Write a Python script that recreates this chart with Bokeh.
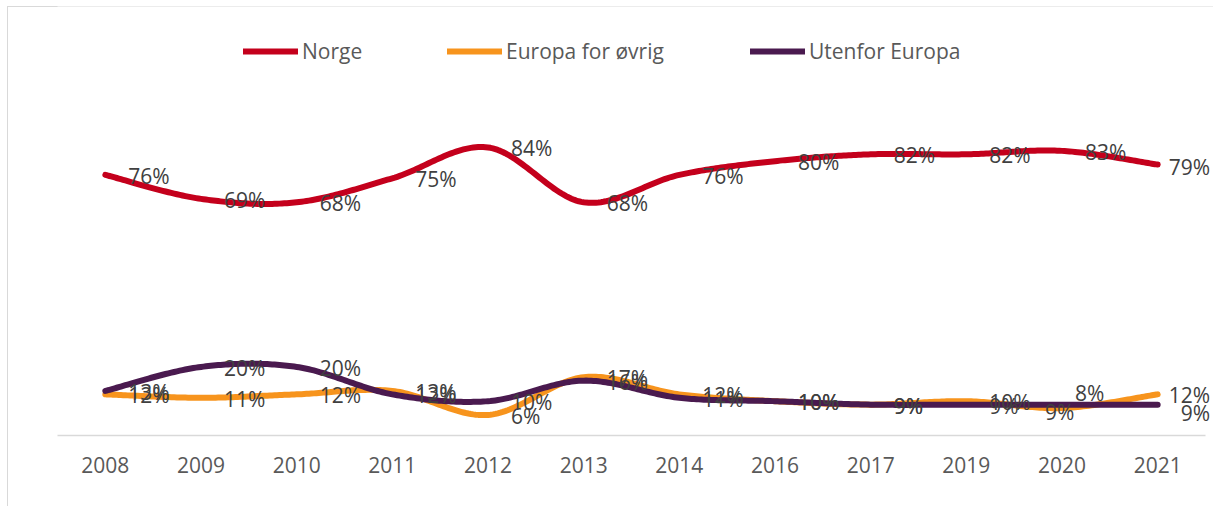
import numpy as np
from bokeh.plotting import figure
from bokeh.models import (ColumnDataSource, Range1d, LabelSet, FixedTicker,
                          Legend, LegendItem)
from bokeh.core.properties import value
from bokeh.embed import file_html
from bokeh.resources import INLINE

# ---------------- data ----------------
years = ["2008", "2009", "2010", "2011", "2012", "2013", "2014",
         "2016", "2017", "2019", "2020", "2021"]
norge = [76, 69, 68, 75, 84, 68, 76, 80, 82, 82, 83, 79]
europa = [12, 11, 12, 13, 6, 17, 12, 10, 9, 10, 8, 12]
utenfor = [13, 20, 20, 12, 10, 16, 11, 10, 9, 9, 9, 9]
series_names = ["Norge", "Europa for øvrig", "Utenfor Europa"]

# ---------------- style ----------------
colors = ["#C4001C", "#F7941D", "#4A1A4F"]
FONT = "Open Sans"
Y_MAX = 125.1
N = len(years)
FRAME_W = 1156          # px
BAND_W = 1148 / N       # px per category (axis spans 12 categories)
X_MAX = FRAME_W / BAND_W

# label offsets in screen px (dx right, dy down); default applied otherwise
DEFAULT_OFF = (23, 1)
label_offsets = [
    {"2021": (11, 2)},
    {"2021": (11, 1), "2020": (13, -15)},
    {"2021": (23, 8), "2020": (-17, 7)},
]

xpos = [i + 0.5 for i in range(N)]


def smooth(vals, n=40):
    pts = np.column_stack([np.asarray(xpos, float), np.asarray(vals, float)])
    out = []
    t = np.linspace(0, 1, n)[:, None]
    for i in range(len(pts) - 1):
        p0 = pts[max(i - 1, 0)]
        p1 = pts[i]
        p2 = pts[i + 1]
        p3 = pts[min(i + 2, len(pts) - 1)]
        c1 = p1 + (p2 - p0) / 6.0
        c2 = p2 - (p3 - p1) / 6.0
        seg = ((1 - t) ** 3) * p1 + 3 * ((1 - t) ** 2) * t * c1 \
            + 3 * (1 - t) * (t ** 2) * c2 + (t ** 3) * p2
        out.append(seg if i == 0 else seg[1:])
    s = np.vstack(out)
    return s[:, 0], s[:, 1]


p = figure(width=1206, height=500,
           x_range=Range1d(0, X_MAX),
           y_range=Range1d(0, Y_MAX),
           output_backend="svg", toolbar_location=None,
           min_border_left=50, min_border_right=0,
           min_border_top=0, min_border_bottom=71)

p.outline_line_color = None
p.background_fill_color = "white"
p.border_fill_alpha = 0
p.xgrid.visible = False
p.ygrid.visible = False
p.yaxis.visible = False
p.styles = {"margin-left": "7px", "margin-top": "6px",
            "box-shadow": "inset 1px 1px 0 0 #d9d9d9"}

ax = p.xaxis[0]
ax.ticker = FixedTicker(ticks=xpos)
ax.major_label_overrides = {x: y for x, y in zip(xpos, years)}
ax.bounds = (0, N)
ax.axis_line_color = "#d9d9d9"
ax.axis_line_width = 1.5
ax.major_tick_line_color = None
ax.minor_tick_line_color = None
ax.major_label_text_font = FONT
ax.major_label_text_font_size = "21px"
ax.major_label_text_color = "#595959"
ax.major_label_standoff = 15

renderers = []
for vals, col in zip([norge, europa, utenfor], colors):
    sx, sy = smooth(vals)
    r = p.line(sx, sy, line_color=col, line_width=6,
               line_cap="round", line_join="round")
    renderers.append(r)

for k, vals in enumerate([norge, europa, utenfor]):
    offs = [label_offsets[k].get(y, DEFAULT_OFF) for y in years]
    src = ColumnDataSource(dict(
        x=xpos, y=vals, text=[f"{v}%" for v in vals],
        dx=[o[0] for o in offs], dy=[-o[1] for o in offs]))
    ls = LabelSet(x="x", y="y", text="text", x_offset="dx", y_offset="dy",
                  source=src, text_font=value(FONT),
                  text_font_size=value("21px"),
                  text_color="#404040", text_align="left",
                  text_baseline="middle")
    p.add_layout(ls)

leg_x = [186, 390, 693]
for name, r, lx in zip(series_names, renderers, leg_x):
    lg = Legend(items=[LegendItem(label=name, renderers=[r])],
                location=(lx, 370), orientation="horizontal",
                padding=0, margin=0, border_line_alpha=0,
                background_fill_alpha=0, glyph_width=55, glyph_height=24,
                label_height=24, label_standoff=4,
                label_text_font=FONT, label_text_font_size="21px",
                label_text_color="#595959")
    p.add_layout(lg)

open("out.html", "w").write(file_html(p, INLINE))
